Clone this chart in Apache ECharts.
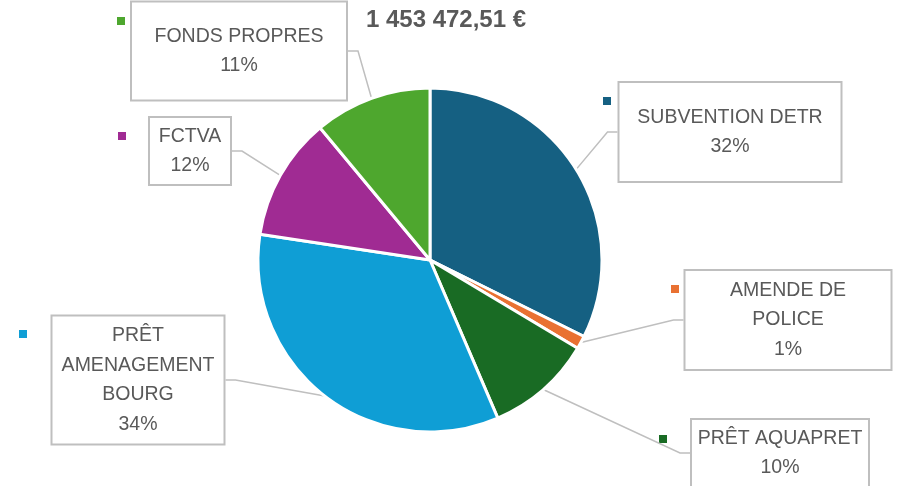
<!DOCTYPE html>
<html>
<head>
<meta charset="utf-8">
<script src="https://cdn.jsdelivr.net/npm/echarts@6/dist/echarts.min.js"></script>
<style>
  html, body { margin: 0; padding: 0; background: #fff; }
  #chart { width: 899px; height: 486px; }
</style>
</head>
<body>
<div id="chart"></div>
<script>
// données du plan de financement
const categories = ['SUBVENTION DETR', 'AMENDE DE\nPOLICE', 'PRÊT AQUAPRET', 'PRÊT\nAMENAGEMENT\nBOURG', 'FCTVA', 'FONDS PROPRES'];
const amounts = [470000, 18000, 145000, 492000, 168000, 160472.51];
const colors = ['#156082', '#E97132', '#196B24', '#0F9ED5', '#A02B93', '#4EA72E'];
const totalLabel = '1 453 472,51 €';

// boîtes des étiquettes : centre x, centre y, largeur, hauteur
const labelBoxes = [
    [730, 132, 221, 98],
    [788, 320, 205, 98],
    [780, 453, 176, 66],
    [138, 380, 171, 127],
    [190, 151, 80, 66],
    [239, 51, 214, 97]
];
// petits carrés de légende
const keyPos = [[603, 97], [671, 285], [659, 435], [19, 330], [118, 132], [117, 17]];

const lineH = 29.5;
const textColor = '#595959';

const chart = echarts.init(document.getElementById('chart'));

const data = categories.map((name, i) => {
    const nLines = name.split('\n').length + 1;
    const b = labelBoxes[i];
    const pv = Math.max(0, (b[3] - nLines * lineH) / 2);
    return {
        name: name,
        value: amounts[i],
        itemStyle: { color: colors[i] },
        label: { width: b[2] - 4, padding: [pv, 2, pv, 2] }
    };
});

chart.setOption({
    animation: false,
    title: {
        text: totalLabel,
        left: 441,
        top: 3,
        textAlign: 'center',
        textStyle: { fontFamily: 'Liberation Sans', fontSize: 24, fontWeight: 'bold', color: textColor }
    },
    graphic: keyPos.map((p, i) => ({
        type: 'rect',
        z: 0,
        shape: { x: p[0], y: p[1], width: 8, height: 8 },
        style: { fill: colors[i] }
    })),
    series: [{
        type: 'pie',
        center: [430, 260],
        radius: 172,
        startAngle: 90,
        clockwise: true,
        avoidLabelOverlap: false,
        itemStyle: { borderColor: '#fff', borderWidth: 3 },
        data: data,
        label: {
            show: true,
            position: 'outside',
            formatter: p => p.name + '\n' + Math.round(p.percent) + '%',
            fontFamily: 'Liberation Sans',
            fontSize: 19.5,
            lineHeight: lineH,
            color: textColor,
            align: 'center',
            backgroundColor: '#fff',
            borderColor: '#BFBFBF',
            borderWidth: 2
        },
        labelLine: {
            show: true,
            length: 10,
            length2: 10,
            lineStyle: { color: '#BFBFBF', width: 1.5 }
        },
        labelLayout: function (params) {
            const b = labelBoxes[params.dataIndex];
            return { x: b[0], y: b[1], align: 'center', verticalAlign: 'middle' };
        }
    }]
});
</script>
</body>
</html>
